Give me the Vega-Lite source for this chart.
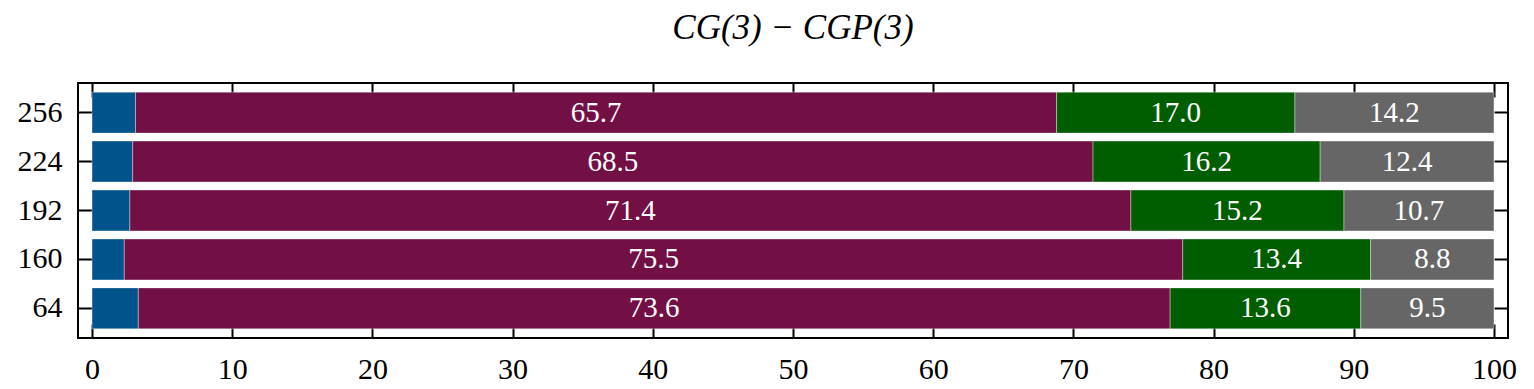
{
  "$schema": "https://vega.github.io/schema/vega-lite/v6.json",
  "autosize": {"type": "none"},
  "padding": {"left": 78, "top": 83, "right": 26, "bottom": 51},
  "width": 1430,
  "height": 255,
  "title": {"text": "CG(3) − CGP(3)", "font": "Liberation Serif", "fontStyle": "italic", "fontWeight": "normal", "fontSize": 35, "color": "black", "anchor": "middle", "offset": 36},
  "config": {
    "view": {"stroke": "black", "strokeWidth": 2},
    "axis": {"domain": false, "grid": false, "labelFont": "Liberation Serif", "labelFontSize": 30, "labelColor": "black", "tickColor": "black", "tickWidth": 2, "tickSize": -14, "title": null}
  },
  "data": {"values": [
    {"size": "256", "segment": "a", "order": 1, "value": 3.1},
    {"size": "256", "segment": "b", "order": 2, "value": 65.7},
    {"size": "256", "segment": "c", "order": 3, "value": 17.0},
    {"size": "256", "segment": "d", "order": 4, "value": 14.2},
    {"size": "224", "segment": "a", "order": 1, "value": 2.9},
    {"size": "224", "segment": "b", "order": 2, "value": 68.5},
    {"size": "224", "segment": "c", "order": 3, "value": 16.2},
    {"size": "224", "segment": "d", "order": 4, "value": 12.4},
    {"size": "192", "segment": "a", "order": 1, "value": 2.7},
    {"size": "192", "segment": "b", "order": 2, "value": 71.4},
    {"size": "192", "segment": "c", "order": 3, "value": 15.2},
    {"size": "192", "segment": "d", "order": 4, "value": 10.7},
    {"size": "160", "segment": "a", "order": 1, "value": 2.3},
    {"size": "160", "segment": "b", "order": 2, "value": 75.5},
    {"size": "160", "segment": "c", "order": 3, "value": 13.4},
    {"size": "160", "segment": "d", "order": 4, "value": 8.8},
    {"size": "64", "segment": "a", "order": 1, "value": 3.3},
    {"size": "64", "segment": "b", "order": 2, "value": 73.6},
    {"size": "64", "segment": "c", "order": 3, "value": 13.6},
    {"size": "64", "segment": "d", "order": 4, "value": 9.5}
  ]},
  "transform": [
    {"stack": "value", "groupby": ["size"], "sort": [{"field": "order", "order": "ascending"}], "as": ["x0", "x1"]}
  ],
  "layer": [
    {
      "mark": {"type": "bar", "stroke": "white", "strokeWidth": 0.6, "strokeOpacity": 0.6},
      "encoding": {
        "y": {"field": "size", "type": "nominal", "sort": ["256", "224", "192", "160", "64"],
              "scale": {"paddingInner": 0.163, "paddingOuter": 0.187},
              "axis": {"orient": "left", "labelPadding": 30}},
        "x": {"field": "x0", "type": "quantitative", "scale": {"domain": [-1, 101], "nice": false, "zero": false},
              "axis": {"orient": "bottom", "values": [0, 10, 20, 30, 40, 50, 60, 70, 80, 90, 100], "labelPadding": 30}},
        "x2": {"field": "x1"},
        "color": {"field": "segment", "type": "nominal", "legend": null,
                  "scale": {"domain": ["a", "b", "c", "d"], "range": ["#00538b", "#721045", "#005e00", "#666666"]}}
      }
    },
    {
      "transform": [
        {"filter": "datum.segment != 'a'"},
        {"fold": ["x0", "x1"], "as": ["edge", "pos"]}
      ],
      "mark": {"type": "text", "color": "white", "font": "Liberation Serif", "fontSize": 29, "align": "center", "baseline": "middle"},
      "encoding": {
        "y": {"field": "size", "type": "nominal", "sort": ["256", "224", "192", "160", "64"],
              "axis": {"orient": "right", "labels": false}},
        "x": {"field": "pos", "aggregate": "mean", "type": "quantitative",
              "axis": {"orient": "top", "labels": false, "values": [0, 10, 20, 30, 40, 50, 60, 70, 80, 90, 100]}},
        "detail": {"field": "segment", "type": "nominal"},
        "text": {"field": "value", "type": "quantitative", "format": ".1f"}
      }
    }
  ],
  "resolve": {"axis": {"x": "independent", "y": "independent"}}
}
